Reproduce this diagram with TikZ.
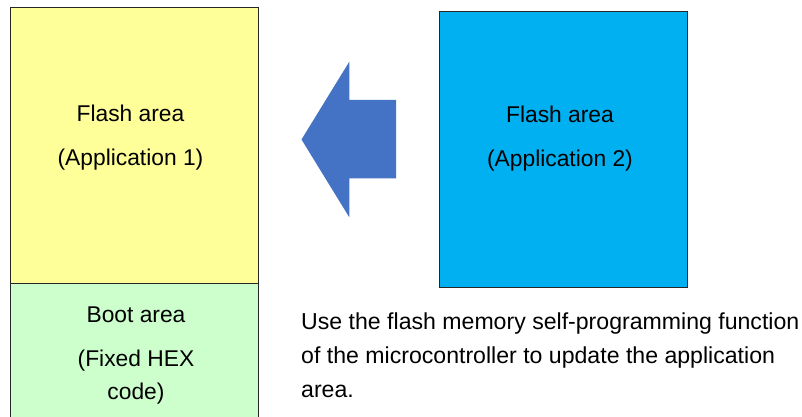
\documentclass[tikz,border=0pt]{standalone}
\usepackage{fontspec}
\setmainfont{Liberation Sans}
\definecolor{flashyellow}{HTML}{FFFF99}
\definecolor{bootgreen}{HTML}{CCFFCC}
\definecolor{flashblue}{HTML}{00B0F0}
\definecolor{arrowblue}{HTML}{4472C4}
\definecolor{edgegray}{HTML}{262626}
\begin{document}
\begin{tikzpicture}[x=1pt,y=-1pt,
  area/.style={draw=edgegray,line width=0.9pt},
  lbl/.style={font=\fontsize{22.8}{27}\selectfont,anchor=base,inner sep=0pt,text=black},
  note/.style={font=\fontsize{23.1}{27}\selectfont,anchor=base west,inner sep=0pt,text=black}]
\useasboundingbox (0,0) rectangle (802,417);
\clip (0,0) rectangle (802,417);
\fill[white] (0,0) rectangle (802,417);
% left memory column
\draw[area,fill=flashyellow] (10.5,7.5) rectangle (258.5,283.5);
\draw[area,fill=bootgreen] (10.5,283.5) rectangle (258.5,425);
\node[lbl] (fa1) at (130.5,121.7) {Flash area};
\node[lbl] (app1) at (130.5,165.7) {(Application 1)};
\node[lbl] (boot) at (136,322.7) {Boot area};
\node[lbl] (fixed) at (136,366.7) {(Fixed HEX};
\node[lbl] (code) at (136,399.5) {code)};
% right box
\draw[area,fill=flashblue] (439.5,11.5) rectangle (687.5,287.5);
\node[lbl] (fa2) at (560,122.5) {Flash area};
\node[lbl] (app2) at (560,166.5) {(Application 2)};
% arrow
\fill[arrowblue] (301.5,139.5) -- (349.3,61.7) -- (349.3,100) -- (396,100)
  -- (396,178.3) -- (349.3,178.3) -- (349.3,217.3) -- cycle;
% note
\node[note] (n1) at (301,329) {Use the flash memory self-programming function};
\node[note] (n2) at (301,363.3) {of the microcontroller to update the application};
\node[note] (n3) at (301,397) {area.};
\end{tikzpicture}
\end{document}
